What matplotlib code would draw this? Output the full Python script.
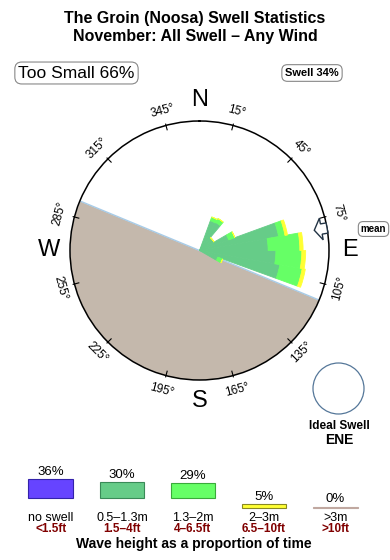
import numpy as np
import matplotlib
matplotlib.use("Agg")
import matplotlib.pyplot as plt
from matplotlib.patches import Circle, Rectangle

plt.rcParams['font.family'] = ['Liberation Sans', 'DejaVu Sans']

# Rose data: direction bins (deg) and radial length of each height band
# (fraction of the outer circle radius)
dirs = [25, 35, 45, 55, 65, 75, 85, 95, 105, 115]
band_small = [0.245, 0.25, 0.13, 0.13, 0.24, 0.62, 0.53, 0.59, 0.63, 0.15]
band_mid = [0.03, 0.035, 0.0, 0.0, 0.05, 0.05, 0.245, 0.20, 0.175, 0.04]
band_big = [0.0, 0.0, 0.0, 0.0, 0.0, 0.02, 0.025, 0.03, 0.025, 0.0]
mean_dir = 80
land_from, land_to = 112.5, 292.5

tick_dirs = [15, 45, 75, 105, 135, 165, 195, 225, 255, 285, 315, 345]
compass = ['N', 'E', 'S', 'W']
compass_dirs = [0, 90, 180, 270]

# Legend data
pcts = [36, 30, 29, 5, 0]
band_names = ['no swell', '0.5–1.3m', '1.3–2m', '2–3m', '>3m']
band_feet = ['<1.5ft', '1.5–4ft', '4–6.5ft', '6.5–10ft', '>10ft']
band_colors = ['#6644ff', '#66cc88', '#66ff66', '#ffff33', '#c8b0a8']
band_edges = ['#3322aa', '#3a8a58', '#3aaa3a', '#888822', '#c0a8a0']

too_small = 66
swell = 34
ideal = 'ENE'

fig = plt.figure(figsize=(3.9, 5.6), dpi=100)

# overlay in pixel units for boxes and legend
ov = fig.add_axes([0, 0, 1, 1])
ov.set_xlim(0, 390)
ov.set_ylim(560, 0)
ov.axis('off')

# ---- rose ----
ax = fig.add_axes([70 / 390, 180 / 560, 259 / 390, 259 / 560], projection='polar')
ax.set_theta_zero_location('N')
ax.set_theta_direction(-1)
ax.set_ylim(0, 1)
ax.set_xticks([])
ax.set_yticks([])
ax.grid(False)
ax.spines['polar'].set_linewidth(1.1)
ax.spines['polar'].set_color('black')

th = np.radians(np.linspace(land_from, land_to, 200))
ax.fill_between(th, 0, 1, color='#c4b8ac', lw=0, zorder=2)
ax.plot(np.radians([land_to, land_from]), [1, 1], color='#a8cce8', lw=1, zorder=2.5)

t = np.radians(dirs)
w = np.radians(10)
s = np.array(band_small)
m = np.array(band_mid)
b = np.array(band_big)
ax.bar(t, s, width=w, bottom=0, color='#66cc88', ec='#66cc88', lw=0.6, zorder=3)
ax.bar(t, m, width=w, bottom=s, color='#66ff66', ec='#66ff66', lw=0.6, zorder=3.1)
ax.bar(t, b, width=w, bottom=s + m, color='#ffff33', ec='#ffff33', lw=0.6, zorder=3.2)

# ticks and degree labels
for d in tick_dirs:
    ax.plot([np.radians(d)] * 2, [0.965, 1.01], color='black', lw=0.8, clip_on=False)
    rot = -d
    if np.cos(np.radians(rot)) < 0:
        rot += 180
    ax.text(np.radians(d), 1.115, f'{d}°', rotation=rot, rotation_mode='anchor',
            ha='center', va='center', fontsize=8.5)

for lab, d in zip(compass, compass_dirs):
    ax.text(np.radians(d), 1.16, lab, ha='center', va='center', fontsize=17)

# mean direction arrow (hollow)
u = np.array([np.sin(np.radians(mean_dir)), np.cos(np.radians(mean_dir))])
v = np.array([-u[1], u[0]])
shape = [(0.90, 0), (0.955, 0.085), (0.955, 0.04), (1.0, 0.04),
         (1.0, -0.04), (0.955, -0.04), (0.955, -0.085), (0.90, 0)]
pts = np.array([a * u + c * v for a, c in shape])
ax.fill(np.arctan2(pts[:, 0], pts[:, 1]), np.hypot(pts[:, 0], pts[:, 1]),
        facecolor='white', edgecolor='#223344', lw=1, zorder=4, clip_on=False)

# ---- titles and boxes ----
fig.text(195 / 390, 1 - 23.5 / 560, 'The Groin (Noosa) Swell Statistics',
         ha='center', va='baseline', fontsize=11.5, fontweight='bold')
fig.text(195 / 390, 1 - 41.5 / 560, 'November: All Swell – Any Wind',
         ha='center', va='baseline', fontsize=11.5, fontweight='bold')
fig.text(76.5 / 390, 1 - 73 / 560, f'Too Small {too_small}%', ha='center', va='center',
         fontsize=12.5,
         bbox=dict(boxstyle='round,pad=0.2,rounding_size=0.4', fc='white', ec='#888888', lw=0.8))
fig.text(312 / 390, 1 - 73 / 560, f'Swell {swell}%', ha='center', va='center',
         fontsize=8, fontweight='bold',
         bbox=dict(boxstyle='round,pad=0.3,rounding_size=0.5', fc='white', ec='#888888', lw=0.8))
fig.text(373.5 / 390, 1 - 229 / 560, 'mean', ha='center', va='center',
         fontsize=7, fontweight='bold',
         bbox=dict(boxstyle='round,pad=0.25,rounding_size=0.5', fc='white', ec='#888888', lw=0.8))

# ideal swell
ov.add_patch(Circle((338.5, 388.5), 25.5, fc='white', ec='#557799', lw=0.9))
ov.text(339, 429, 'Ideal Swell', ha='center', va='baseline', fontsize=8.5, fontweight='bold')
ov.text(339, 444, ideal, ha='center', va='baseline', fontsize=10, fontweight='bold')

# ---- legend ----
for i, p in enumerate(pcts):
    x = 50.8 + 71.1 * i
    h = 1.0 + 0.49 * p
    bottom = 498 if h > 8 else 507.5
    ov.add_patch(Rectangle((x - 22.3, bottom - h), 44.6, h, fc=band_colors[i],
                           ec=band_edges[i], lw=0.8))
    ov.text(x, bottom - h - 4, f'{p}%', ha='center', va='baseline', fontsize=9.5)
    ov.text(x, 521, band_names[i], ha='center', va='baseline', fontsize=9)
    ov.text(x, 532, band_feet[i], ha='center', va='baseline', fontsize=8.5,
            fontweight='bold', color='#800000')
ov.text(194, 548, 'Wave height as a proportion of time', ha='center', va='baseline',
        fontsize=10, fontweight='bold')

fig.savefig('out.png', dpi=100)
